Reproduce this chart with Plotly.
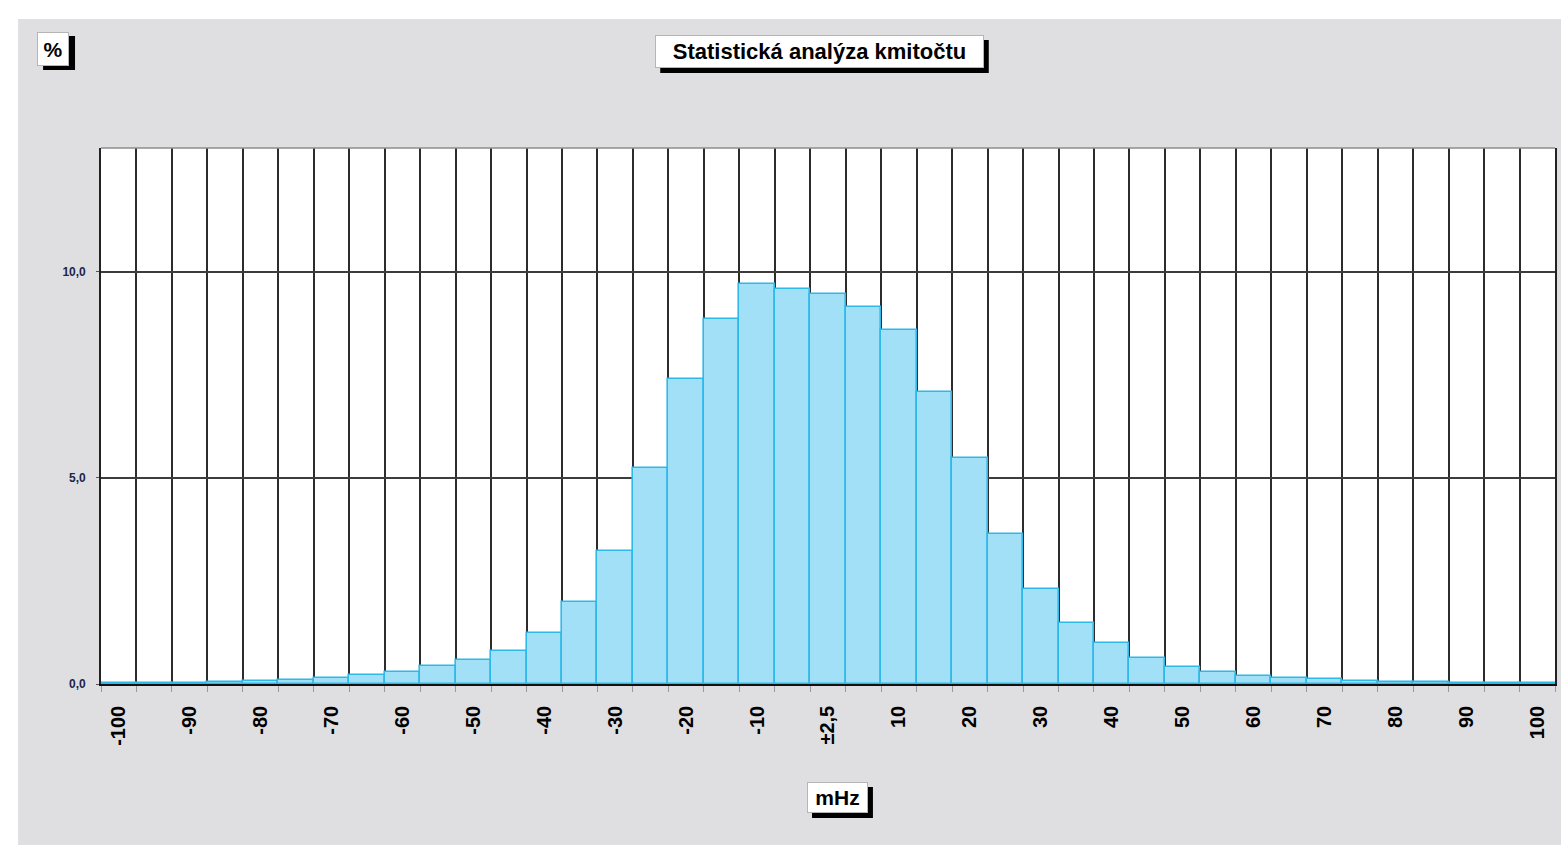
import plotly.graph_objects as go

# Frequency deviation bins (mHz, bin centres) and share of samples (%)
bin_centres = list(range(-100, 101, 5))
share_pct = [0.02, 0.03, 0.03, 0.04, 0.07, 0.10, 0.14, 0.22, 0.30, 0.43,
             0.58, 0.80, 1.24, 2.00, 3.23, 5.24, 7.39, 8.85, 9.70, 9.59,
             9.47, 9.15, 8.59, 7.08, 5.49, 3.64, 2.31, 1.47, 0.99, 0.64,
             0.42, 0.29, 0.19, 0.15, 0.11, 0.08, 0.055, 0.04, 0.03, 0.03,
             0.02]
bin_width = 5

# Axis labels
x_tick_vals = list(range(-100, 101, 10))
x_tick_text = ["-100", "-90", "-80", "-70", "-60", "-50", "-40", "-30", "-20",
               "-10", "±2,5", "10", "20", "30", "40", "50", "60", "70", "80",
               "90", "100"]
y_tick_vals = [0, 5, 10]
y_tick_text = ["0,0", "5,0", "10,0"]

title_text = "Statistická analýza kmitočtu"
y_unit = "%"
x_unit = "mHz"

W, H = 1561, 845
ML, MR, MT, MB = 101, 4, 148, 161
PW, PH = W - ML - MR, H - MT - MB

FONT = "Liberation Sans, Arial, sans-serif"
PANEL = "#dfdfe1"
GRID = "#2c2c2c"


def px_x(px):
    return (px - ML) / PW


def px_y(py):
    return (H - MB - py) / PH


fig = go.Figure()
fig.add_trace(go.Bar(
    x=bin_centres, y=share_pct, width=bin_width,
    marker=dict(color="#a2e0f8", line=dict(color="#2fb8ea", width=1.6)),
    hoverinfo="x+y", showlegend=False,
))

shapes = [
    # white page strips outside the grey panel
    dict(type="rect", xref="paper", yref="paper", x0=px_x(-5), x1=px_x(W + 5),
         y0=px_y(19), y1=px_y(-5), fillcolor="white", line=dict(width=0),
         layer="below"),
    dict(type="rect", xref="paper", yref="paper", x0=px_x(-5), x1=px_x(18),
         y0=px_y(H + 5), y1=px_y(-5), fillcolor="white", line=dict(width=0),
         layer="below"),
    # top frame line
    dict(type="line", xref="paper", yref="paper", x0=0, x1=1, y0=1, y1=1,
         line=dict(color="#8c8c8c", width=1.5)),
]


# Boxed labels with a black drop shadow (left, top, right, bottom in px)
def boxed(text, box, size, dx=5, dy=5):
    l, t, r, b = box
    shapes.append(dict(type="rect", xref="paper", yref="paper",
                       x0=px_x(l + dx), x1=px_x(r + dx),
                       y0=px_y(b + dy), y1=px_y(t + dy),
                       fillcolor="black", line=dict(width=0), layer="above"))
    fig.add_annotation(
        x=px_x((l + r) / 2), y=px_y((t + b) / 2), xref="paper", yref="paper",
        showarrow=False, xanchor="center", yanchor="middle",
        width=r - l - 8, height=b - t - 8, borderpad=3, borderwidth=1,
        text="<b>%s</b>" % text,
        font=dict(family=FONT, size=size, color="black"),
        bgcolor="white", bordercolor="#b5b5b5")


boxed(title_text, (656, 35, 985, 68), 22)
boxed(y_unit, (37, 32, 69, 66), 21, dx=6, dy=4)
boxed(x_unit, (808, 782, 869, 813), 21)

fig.update_layout(
    width=W, height=H,
    margin=dict(l=ML, r=MR, t=MT, b=MB, pad=0),
    paper_bgcolor=PANEL, plot_bgcolor="white",
    bargap=0, shapes=shapes,
    font=dict(family=FONT, color="black"),
    xaxis=dict(
        range=[-102.5, 102.5], tickmode="array",
        tickvals=x_tick_vals, ticktext=x_tick_text, tickangle=-90,
        ticks="", showgrid=False, zeroline=False,
        tickfont=dict(family=FONT, size=20, color="black", weight="bold"),
        ticklabelstandoff=12,
        showline=True, linecolor="#111", linewidth=1.6,
        minor=dict(tick0=-102.5, dtick=bin_width, showgrid=True,
                   gridcolor=GRID, gridwidth=1.6, ticks="outside",
                   ticklen=6, tickcolor="#9a9a9a", tickwidth=1.3),
    ),
    yaxis=dict(
        range=[0, 13], tickmode="array", tickvals=y_tick_vals,
        ticktext=y_tick_text, showgrid=True, gridcolor="#3c3c3c",
        gridwidth=1.6, zeroline=False, ticks="outside", ticklen=3,
        tickcolor="#555",
        tickfont=dict(family=FONT, size=12, color="#1f2548", weight="bold"),
        ticklabelstandoff=8,
        showline=True, mirror=True, linecolor="#222", linewidth=1.6,
    ),
)

fig.write_html("out.html")
